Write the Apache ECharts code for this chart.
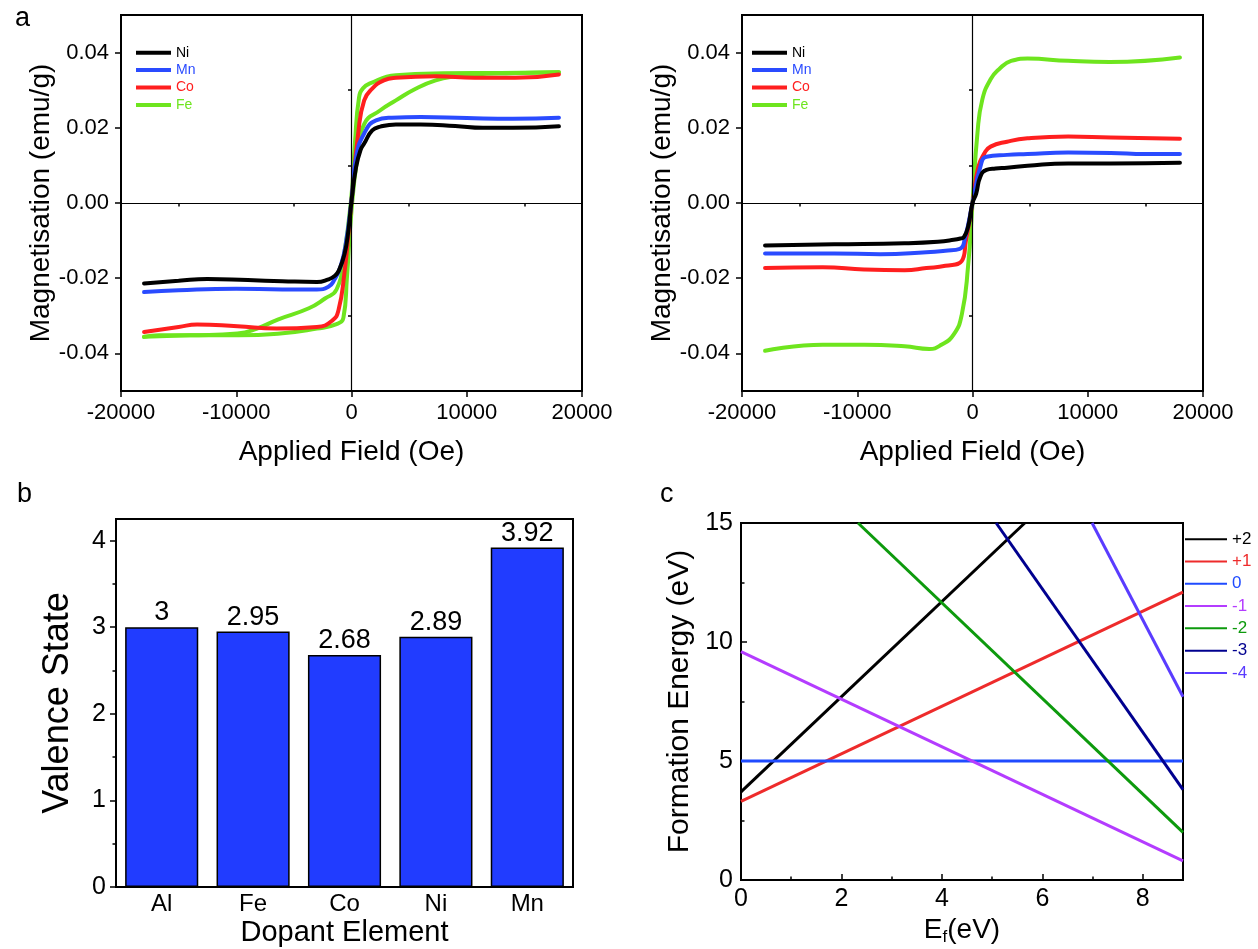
<!DOCTYPE html>
<html>
<head>
<meta charset="utf-8">
<script src="https://cdn.jsdelivr.net/npm/echarts@6/dist/echarts.min.js"></script>
<style>
  html, body { margin: 0; padding: 0; background: #fff; }
  #fig { width: 1258px; height: 949px; }
</style>
</head>
<body>
<div id="fig"></div>
<script>
// ---- tick labels ----
var fieldTicks = [-20000, -10000, 0, 10000, 20000];
var fieldMinor = [-15000, -5000, 5000, 15000];
var magTicks = [-0.04, -0.02, 0, 0.02, 0.04];
var magMinor = [-0.03, -0.01, 0.01, 0.03];
var valenceTicks = [0, 1, 2, 3, 4];
var valenceMinor = [0.5, 1.5, 2.5, 3.5];
var efTicks = [0, 2, 4, 6, 8];
var efMinor = [1, 3, 5, 7];
var energyTicks = [0, 5, 10, 15];
var energyMinor = [2.5, 7.5, 12.5];

// ---- panel a, left: [field (Oe), M (emu/g)] ----
var niA = [[-18000,-0.0214],[-15000,-0.0207],[-12500,-0.0202],[-9000,-0.0205],[-6000,-0.0208],[-3000,-0.021],[-2000,-0.0203],[-1500,-0.0195],[-1100,-0.018],[-600,-0.0135],[-270,-0.0073],[0,0.0005],[400,0.0096],[800,0.0142],[1100,0.0158],[1800,0.0193],[2500,0.0203],[3850,0.0209],[6000,0.0209],[9000,0.0205],[11400,0.02],[14000,0.02],[18000,0.0204]];
var mnA = [[-18000,-0.0237],[-15000,-0.0232],[-10000,-0.0228],[-6000,-0.023],[-3000,-0.023],[-2000,-0.0223],[-1500,-0.0205],[-960,-0.017],[-500,-0.011],[0,0.0007],[400,0.0122],[1100,0.0185],[2130,0.022],[3500,0.0227],[6000,0.0229],[10000,0.0226],[14000,0.0224],[18000,0.0227]];
var coA = [[-18000,-0.0343],[-15000,-0.033],[-13400,-0.0323],[-9900,-0.0328],[-6500,-0.0334],[-3000,-0.033],[-1650,-0.0312],[-1130,-0.0285],[-620,-0.0188],[-200,-0.006],[0,0.0005],[580,0.0185],[1100,0.0273],[1800,0.0304],[2800,0.0326],[3850,0.0333],[7300,0.0337],[10700,0.0333],[14200,0.0333],[18000,0.0342]];
var feA1 = [[-18000,-0.0356],[-14000,-0.0352],[-9900,-0.0347],[-8200,-0.0334],[-6400,-0.031],[-3700,-0.028],[-2300,-0.0254],[-1300,-0.023],[-700,-0.015],[0,0.002],[300,0.016],[650,0.028],[1000,0.0305],[1600,0.0318],[3850,0.034],[8000,0.0345],[13000,0.0346],[18000,0.0348]];
var feA2 = [[-18000,-0.0356],[-16700,-0.0352],[-9800,-0.0352],[-6400,-0.0348],[-3000,-0.0334],[-1300,-0.0322],[-700,-0.0305],[-400,-0.02],[0,-0.002],[500,0.012],[1100,0.021],[2470,0.0246],[3850,0.0273],[5570,0.0304],[7300,0.0326],[9000,0.0337],[10700,0.0342],[14000,0.0345],[18000,0.0348]];

// ---- panel a, right ----
var niB = [[-18000,-0.0113],[-12000,-0.011],[-5900,-0.0107],[-3000,-0.0103],[-1640,-0.0098],[-1000,-0.0094],[-750,-0.0091],[-390,-0.0064],[0,0],[320,0.0025],[680,0.007],[1210,0.0088],[2000,0.0092],[3000,0.0094],[4770,0.0099],[8300,0.0105],[12000,0.0105],[18000,0.0107]];
var mnB = [[-18000,-0.0134],[-12000,-0.0134],[-8000,-0.0136],[-4000,-0.0131],[-2350,-0.0127],[-1100,-0.0122],[-640,-0.0091],[0,0],[680,0.0096],[1210,0.0123],[3000,0.0128],[4770,0.013],[8300,0.0134],[12000,0.0133],[15000,0.013],[18000,0.013]];
var coB = [[-18000,-0.0173],[-13000,-0.0171],[-9400,-0.0177],[-5900,-0.0179],[-4000,-0.0173],[-2350,-0.0167],[-925,-0.0154],[-570,-0.01],[0,0],[500,0.0096],[1030,0.0132],[1570,0.015],[3000,0.0163],[4770,0.0172],[8300,0.0177],[12000,0.0174],[18000,0.0171]];
var feB = [[-18000,-0.0393],[-13000,-0.0377],[-9400,-0.0377],[-5900,-0.0381],[-3740,-0.0388],[-2700,-0.0377],[-1640,-0.035],[-925,-0.0296],[-390,-0.017],[0,0],[430,0.0186],[850,0.0275],[1570,0.0329],[2280,0.0355],[3350,0.0378],[4770,0.0384],[8300,0.0378],[11900,0.0375],[18000,0.0387]];

// ---- panel b ----
var dopants = ["Al", "Fe", "Co", "Ni", "Mn"];
var valence = [3, 2.95, 2.68, 2.89, 3.92];

// ---- panel c: [Ef (eV), formation energy (eV)] end points ----
var chargeNames = ["+2", "+1", "0", "-1", "-2", "-3", "-4"];
var chargeColors = ["#000000", "#ee2b2b", "#1f4bff", "#b43cff", "#0d9a0d", "#00008f", "#5a3cff"];
var lineP2 = [[0, 3.7], [5.65, 15]];
var lineP1 = [[0, 3.3], [8.8, 12.1]];
var line0 = [[0, 5.0], [8.8, 5.0]];
var lineM1 = [[0, 9.6], [8.8, 0.8]];
var lineM2 = [[2.33, 15], [8.8, 2.0]];
var lineM3 = [[5.08, 15], [8.8, 3.8]];
var lineM4 = [[6.99, 15], [8.8, 7.7]];
var chargeLines = [lineP2, lineP1, line0, lineM1, lineM2, lineM3, lineM4];

var FONT = "Liberation Sans, Arial, Helvetica, sans-serif";
var elemNames = ["Ni", "Mn", "Co", "Fe"];
var elemColors = { Ni: "#000000", Mn: "#2a4bff", Co: "#ff1f1f", Fe: "#6ee51e" };

// main axis + an overlay axis that only carries the short minor ticks
function axisPair(dim, grid, min, max, major, minor, o) {
  var main = {
    type: "value", gridIndex: grid, min: min, max: max,
    position: dim === "x" ? "bottom" : "left",
    axisLine: { show: true, onZero: false, lineStyle: { color: "#000", width: 2 } },
    splitLine: { show: false },
    axisTick: { show: true, inside: !!o.inside, customValues: major, length: 6, lineStyle: { color: "#000", width: 1.5 } },
    axisLabel: { customValues: major, color: "#000", fontSize: o.fontSize, fontFamily: FONT, margin: o.margin, formatter: o.formatter },
    name: o.name, nameLocation: "middle", nameGap: o.nameGap, nameMoveOverlap: false,
    nameTextStyle: Object.assign({ color: "#000", fontSize: o.nameSize, fontFamily: FONT }, o.nameStyle || {})
  };
  var sub = {
    type: "value", gridIndex: grid, min: min, max: max,
    position: dim === "x" ? "bottom" : "left", offset: 0,
    axisLine: { show: false }, splitLine: { show: false }, axisLabel: { show: false },
    axisTick: { show: true, inside: !!o.inside, customValues: minor, length: 3.5, lineStyle: { color: "#000", width: 1.5 } }
  };
  return [main, sub];
}

var gridBox = { show: true, borderColor: "#000", borderWidth: 2, outerBoundsMode: "none" };
var grids = [
  Object.assign({ left: 121, top: 15, width: 461, height: 376 }, gridBox),
  Object.assign({ left: 742, top: 15, width: 461, height: 376 }, gridBox),
  Object.assign({ left: 116, top: 519, width: 457, height: 368 }, gridBox),
  Object.assign({ left: 741, top: 523, width: 442, height: 357 }, gridBox)
];

var hystX = { fontSize: 22, margin: 11, name: "Applied Field (Oe)", nameGap: 47, nameSize: 28, formatter: function (v) { return String(v); } };
var hystY = { fontSize: 22, margin: 12, name: "Magnetisation (emu/g)", nameGap: 66, nameSize: 28, formatter: function (v) { return v.toFixed(2); } };

var xa0 = axisPair("x", 0, -20000, 20000, fieldTicks, fieldMinor, hystX);
var ya0 = axisPair("y", 0, -0.05, 0.05, magTicks, magMinor, hystY);
var xa1 = axisPair("x", 1, -20000, 20000, fieldTicks, fieldMinor, hystX);
var ya1 = axisPair("y", 1, -0.05, 0.05, magTicks, magMinor, hystY);
var ya2 = axisPair("y", 2, 0, 4.25, valenceTicks, valenceMinor, { fontSize: 25, margin: 10, name: "Valence State", nameGap: 40, nameSize: 36, formatter: function (v) { return String(v); } });
var xa3 = axisPair("x", 3, 0, 8.8, efTicks, efMinor, {
  inside: true, fontSize: 25, margin: 7, name: "E{sub|f}(eV)", nameGap: 35, nameSize: 28,
  nameStyle: { rich: { sub: { fontSize: 17, fontFamily: FONT, color: "#000", padding: [14, 0, 0, 0] } } },
  formatter: function (v) { return String(v); }
});
var ya3 = axisPair("y", 3, 0, 15, energyTicks, energyMinor, { inside: true, fontSize: 25, margin: 8, name: "Formation Energy (eV)", nameGap: 46, nameSize: 30, formatter: function (v) { return String(v); } });

var barX = {
  type: "category", gridIndex: 2, data: dopants, boundaryGap: true,
  axisLine: { show: true, lineStyle: { color: "#000", width: 2 } },
  axisTick: { show: false }, splitLine: { show: false },
  axisLabel: { color: "#000", fontSize: 24, fontFamily: FONT, margin: 5 },
  name: "Dopant Element", nameLocation: "middle", nameGap: 31, nameMoveOverlap: false,
  nameTextStyle: { color: "#000", fontSize: 29, fontFamily: FONT }
};

// x axes: 0 main-a, 1 minor, 2 main-b, 3 minor, 4 bar, 5 main-c, 6 minor
var xAxes = [xa0[0], xa0[1], xa1[0], xa1[1], barX, xa3[0], xa3[1]];
// y axes: 0 main-a, 1 minor, 2 main-b, 3 minor, 4 bar main, 5 minor, 6 main-c, 7 minor
var yAxes = [ya0[0], ya0[1], ya1[0], ya1[1], ya2[0], ya2[1], ya3[0], ya3[1]];

var zeroLines = {
  silent: true, symbol: ["none", "none"], label: { show: false },
  lineStyle: { color: "#000", width: 1.2, type: "solid" },
  data: [{ xAxis: 0 }, { yAxis: 0 }]
};

function hyst(name, data, xi, yi, mark) {
  var s = {
    name: name, type: "line", data: data, xAxisIndex: xi, yAxisIndex: yi,
    symbol: "none", smooth: 0.5,
    lineStyle: { color: elemColors[name], width: 4, join: "round", cap: "round" }, itemStyle: { color: elemColors[name] }
  };
  if (mark) s.markLine = zeroLines;
  return s;
}

var series = [
  hyst("Fe", feA1, 0, 0, true), hyst("Fe", feA2, 0, 0), hyst("Co", coA, 0, 0), hyst("Mn", mnA, 0, 0), hyst("Ni", niA, 0, 0),
  hyst("Fe", feB, 2, 2, true), hyst("Co", coB, 2, 2), hyst("Mn", mnB, 2, 2), hyst("Ni", niB, 2, 2),
  {
    name: "valence", type: "bar", data: valence, xAxisIndex: 4, yAxisIndex: 4, barWidth: "80%",
    itemStyle: { color: "#213cff", borderColor: "#000", borderWidth: 1.5 },
    label: { show: true, position: "top", distance: 1, color: "#000", fontSize: 27, fontFamily: FONT }
  }
];
chargeNames.forEach(function (n, i) {
  series.push({
    name: n, type: "line", data: chargeLines[i], xAxisIndex: 5, yAxisIndex: 6,
    symbol: "none", lineStyle: { color: chargeColors[i], width: 3 }, itemStyle: { color: chargeColors[i] }
  });
});

function legendItems(names, colorOf) {
  return names.map(function (n, i) { return { name: n, textStyle: { color: colorOf(n, i) } }; });
}

var chart = echarts.init(document.getElementById("fig"));
chart.setOption({
  animation: false,
  backgroundColor: "#fff",
  textStyle: { fontFamily: FONT },
  title: [
    { text: "a", left: 10, top: 0, textStyle: { fontSize: 27, fontWeight: "normal", color: "#000", fontFamily: FONT } },
    { text: "b", left: 12, top: 476, textStyle: { fontSize: 27, fontWeight: "normal", color: "#000", fontFamily: FONT } },
    { text: "c", left: 655, top: 476, textStyle: { fontSize: 27, fontWeight: "normal", color: "#000", fontFamily: FONT } }
  ],
  legend: [
    { data: legendItems(elemNames, function (n) { return elemColors[n]; }), orient: "vertical", left: 136, top: 44, padding: 0,
      icon: "rect", itemWidth: 35, itemHeight: 4, itemGap: 0, textStyle: { fontSize: 14, lineHeight: 17.4 } },
    { data: legendItems(elemNames, function (n) { return elemColors[n]; }), orient: "vertical", left: 752, top: 44, padding: 0,
      icon: "rect", itemWidth: 35, itemHeight: 4, itemGap: 0, textStyle: { fontSize: 14, lineHeight: 17.4 } },
    { data: legendItems(chargeNames, function (n, i) { return chargeColors[i]; }), orient: "vertical", left: 1185, top: 528, padding: 0,
      icon: "rect", itemWidth: 42, itemHeight: 2, itemGap: 0, textStyle: { fontSize: 17, lineHeight: 22.3 } }
  ],
  grid: grids,
  xAxis: xAxes,
  yAxis: yAxes,
  series: series
});
</script>
</body>
</html>
